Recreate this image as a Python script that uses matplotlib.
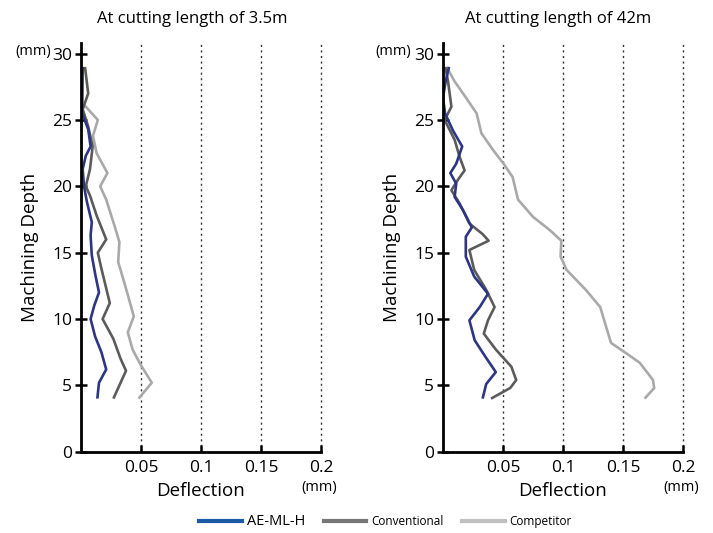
import numpy as np
import matplotlib
matplotlib.use('Agg')
import matplotlib.pyplot as plt
from matplotlib.lines import Line2D

plt.rcParams['font.family'] = ['Open Sans', 'DejaVu Sans']

# ---- data: (deflection mm, depth mm) ----
# At cutting length of 3.5m
short_ae_x = [0.0014, 0.001, 0.006, 0.008, 0.004, 0.0014, 0.0025, 0.005, 0.009, 0.008, 0.009,
              0.012, 0.015, 0.011, 0.008, 0.0117, 0.017, 0.021, 0.015, 0.0136]
short_ae_y = [29, 25.5, 24.3, 23, 22.3, 21.3, 20, 18.8, 17.3, 16.3, 14.8,
              13.3, 12, 11, 10, 8.7, 7.5, 6.2, 5.2, 4]
short_conv_x = [0.0033, 0.006, 0.0014, 0.006, 0.0097, 0.0075, 0.004, 0.0075, 0.013, 0.021, 0.014,
                0.017, 0.024, 0.018, 0.027, 0.033, 0.0375, 0.027]
short_conv_y = [29, 27, 25.8, 24.5, 23, 21.3, 20, 19.3, 17.8, 16, 15,
                13.8, 11.2, 10, 8.5, 7, 6.1, 4]
short_comp_x = [0.003, 0.014, 0.010, 0.013, 0.022, 0.016, 0.021, 0.028, 0.032, 0.031,
                0.0375, 0.044, 0.039, 0.043, 0.050, 0.059, 0.048]
short_comp_y = [26.1, 25, 23.8, 22.5, 21, 20, 19, 17, 15.8, 14.3,
                12.3, 10.2, 9, 7.7, 6.5, 5.2, 4]

# At cutting length of 42m
long_ae_x = [0.005, 0.0022, 0.0, 0.0017, 0.0083, 0.016, 0.011, 0.0061, 0.011, 0.0097, 0.0167,
             0.024, 0.019, 0.019, 0.026, 0.0375, 0.0306, 0.022, 0.0264, 0.035, 0.044, 0.036, 0.033]
long_ae_y = [29, 27.9, 26.7, 25.5, 24.2, 23, 21.7, 21, 20.2, 19.2, 18.2,
             16.9, 16.2, 14.7, 13.2, 11.9, 10.9, 9.9, 8.4, 7.2, 6, 5.1, 4]
long_conv_x = [0.002, 0.0042, 0.007, 0.0014, 0.0097, 0.0139, 0.018, 0.0125, 0.007, 0.0139, 0.022,
               0.033, 0.038, 0.022, 0.026, 0.036, 0.043, 0.0375, 0.034, 0.044, 0.057, 0.061,
               0.056, 0.040]
long_conv_y = [29, 27.9, 26, 25, 23.5, 22.2, 21.2, 20.5, 19.7, 18.7, 17.2,
               16.4, 15.9, 15.2, 13.7, 12.2, 10.9, 9.9, 8.9, 7.7, 6.4, 5.4,
               4.8, 4]
long_comp_x = [0.003, 0.0097, 0.019, 0.028, 0.032, 0.042, 0.0505, 0.058, 0.0625, 0.075, 0.089,
               0.0986, 0.098, 0.103, 0.119, 0.131, 0.135, 0.14, 0.153, 0.164, 0.175, 0.176, 0.168]
long_comp_y = [29, 27.9, 26.7, 25.5, 24, 22.7, 21.7, 20.7, 19, 17.7, 16.7,
               15.9, 14.7, 13.7, 12.2, 10.9, 9.7, 8.2, 7.4, 6.7, 5.4, 4.8, 4]

panels = [
    ('At cutting length of 3.5m', short_ae_x, short_ae_y, short_conv_x, short_conv_y,
     short_comp_x, short_comp_y),
    ('At cutting length of 42m', long_ae_x, long_ae_y, long_conv_x, long_conv_y,
     long_comp_x, long_comp_y),
]
x_ticks = [0.05, 0.1, 0.15, 0.2]
x_tick_labels = ['0.05', '0.1', '0.15', '0.2']
y_ticks = [0, 5, 10, 15, 20, 25, 30]

c_ae = '#2d3584'
c_conv = '#5b5b5b'
c_comp = '#a9a9a9'

W, H = 713, 533
fig = plt.figure(figsize=(7.13, 5.33), dpi=100)
lefts = [81, 443]
title_x = [192, 558]
mm_right = [51, 411]
for left, tx, mr, (title, ax_, ay_, cx_, cy_, px_, py_) in zip(lefts, title_x, mm_right, panels):
    ax = fig.add_axes([left / W, 1 - 451.7 / H, 240 / W, 408.7 / H])
    for xv in x_ticks:
        ax.axvline(xv, color='#333333', linestyle=(0, (1.5, 2.5)), linewidth=1.0,
                   zorder=1, clip_on=False)
    lw = 1.9
    ax.plot(px_, py_, color=c_comp, lw=lw, solid_joinstyle='round', solid_capstyle='butt', zorder=2)
    ax.plot(cx_, cy_, color=c_conv, lw=lw, solid_joinstyle='round', solid_capstyle='butt', zorder=3)
    ax.plot(ax_, ay_, color=c_ae, lw=lw, solid_joinstyle='round', solid_capstyle='butt', zorder=4)

    ax.set_xlim(0, 0.2)
    ax.set_ylim(0, 30.8)
    ax.spines['top'].set_visible(False)
    ax.spines['right'].set_visible(False)
    for s in ('left', 'bottom'):
        ax.spines[s].set_linewidth(2.0)
        ax.spines[s].set_color('black')
        ax.spines[s].set_zorder(5)
    ax.set_xticks(x_ticks)
    ax.set_xticklabels(x_tick_labels)
    ax.set_yticks(y_ticks)
    ax.tick_params(axis='y', direction='inout', length=9, width=1.8, labelsize=12.5, pad=2)
    ax.tick_params(axis='x', direction='in', length=5, width=1.8, labelsize=12.5, pad=6)
    ax.set_xlabel('Deflection', fontsize=13.5, labelpad=4)
    ax.set_ylabel('Machining Depth', fontsize=13.5, labelpad=9)
    ax.patch.set_alpha(0)

    fig.text(mr / W, 1 - 51 / H, '(mm)', fontsize=10.5, ha='right', va='center')
    fig.text((left + 238) / W, 1 - 487 / H, '(mm)', fontsize=10.5, ha='center', va='center')
    fig.text(tx / W, 1 - 19 / H, title, fontsize=12, ha='center', va='center')

handles = [Line2D([], [], color='#1d5aa6', lw=3),
           Line2D([], [], color='#777777', lw=3),
           Line2D([], [], color='#c0c0c0', lw=3)]
leg = fig.legend(handles, ['AE-ML-H', 'Conventional', 'Competitor'], loc='center',
                 bbox_to_anchor=(0.541, 0.021), ncol=3, frameon=False, handlelength=3.6,
                 handletextpad=0.4, columnspacing=1.6, fontsize=8.5)
leg.get_texts()[0].set_fontsize(10.5)

fig.savefig('out.png', dpi=100)
